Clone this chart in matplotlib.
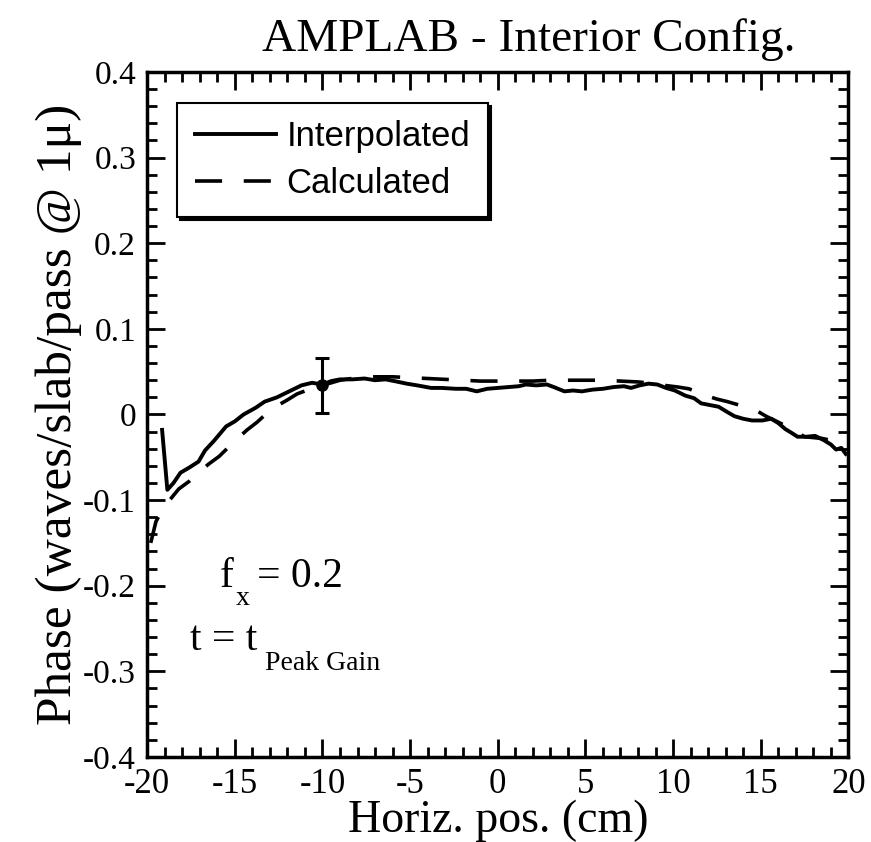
import numpy as np
import matplotlib.pyplot as plt
from matplotlib.ticker import MultipleLocator

plt.rcParams['font.family'] = ['Liberation Serif', 'DejaVu Serif']
plt.rcParams['axes.unicode_minus'] = False

# Interpolated (solid) curve
interp_x = [-19.15, -18.85, -18.5, -18.1, -17.6, -17.07, -16.7, -16.2, -15.5, -15.0,
            -14.5, -13.8, -13.3, -12.6, -12.2, -11.6, -11.2, -10.6, -10.0, -9.5,
            -9.0, -8.3, -7.6, -7.0, -6.4, -5.9, -5.2, -4.6, -3.8, -3.2,
            -2.4, -1.8, -1.2, -0.6, 0.0, 0.6, 1.2, 1.6, 2.2, 2.8,
            3.2, 3.8, 4.3, 4.8, 5.4, 6.0, 6.6, 7.2, 7.6, 8.1,
            8.6, 9.1, 9.6, 10.1, 10.7, 11.2, 11.6, 12.1, 12.6, 13.0,
            13.5, 14.0, 14.5, 15.1, 15.6, 16.0, 16.4, 16.8, 17.1, 17.6,
            18.1, 18.6, 19.0, 19.3, 19.6, 19.85]
interp_y = [-0.018, -0.088, -0.080, -0.068, -0.062, -0.055, -0.042, -0.031, -0.014, -0.008,
            0.000, 0.008, 0.015, 0.020, 0.024, 0.030, 0.034, 0.037, 0.035, 0.039,
            0.041, 0.041, 0.042, 0.040, 0.041, 0.039, 0.036, 0.034, 0.031, 0.031,
            0.030, 0.030, 0.027, 0.030, 0.031, 0.032, 0.033, 0.035, 0.034, 0.035,
            0.032, 0.027, 0.028, 0.027, 0.029, 0.030, 0.032, 0.033, 0.031, 0.034,
            0.036, 0.035, 0.031, 0.028, 0.022, 0.019, 0.013, 0.011, 0.009, 0.004,
            -0.002, -0.005, -0.007, -0.007, -0.005, -0.010, -0.017, -0.022, -0.026, -0.026,
            -0.025, -0.030, -0.035, -0.041, -0.039, -0.046]

# Calculated (dashed) curve
calc_x = [-19.8, -19.5, -19.07, -18.6, -18.2, -17.6, -17.07, -16.5, -15.9, -15.4,
          -14.84, -14.3, -13.73, -13.2, -12.6, -12.0, -11.45, -10.8, -10.0, -9.0,
          -8.0, -7.0, -6.0, -5.0, -4.0, -3.0, -2.0, -1.0, 0.0, 1.0,
          2.0, 3.0, 4.0, 5.0, 6.0, 7.0, 8.0, 9.0, 9.5, 10.3,
          10.9, 11.4, 11.9, 12.5, 13.1, 13.6, 14.2, 14.8, 15.3, 15.9,
          16.4, 17.0, 17.5, 18.0, 18.5, 19.2, 20.0]
calc_y = [-0.150, -0.125, -0.109, -0.097, -0.087, -0.078, -0.068, -0.058, -0.049, -0.039,
          -0.028, -0.018, -0.009, 0.001, 0.010, 0.017, 0.024, 0.029, 0.034, 0.040,
          0.043, 0.044, 0.044, 0.043, 0.042, 0.041, 0.040, 0.039, 0.039, 0.039,
          0.039, 0.040, 0.040, 0.040, 0.040, 0.039, 0.038, 0.036, 0.034, 0.032,
          0.030, 0.026, 0.022, 0.018, 0.015, 0.012, 0.009, 0.004, -0.002, -0.008,
          -0.013, -0.020, -0.026, -0.027, -0.028, -0.031, -0.035]

# error bar point
err_x = [-10.0]
err_y = [0.034]
err_dy = [0.032]

fig = plt.figure(figsize=(8.71, 8.42), dpi=100)
ax = fig.add_axes([0.169, 0.101, 0.805, 0.8135])

ax.plot(interp_x, interp_y, color='k', lw=2.8, label='Interpolated')
ax.plot(calc_x, calc_y, color='k', lw=2.6, linestyle=(0, (7.5, 6)), label='Calculated')
ax.errorbar(err_x, err_y, yerr=err_dy, fmt='o', color='k', ms=8, capsize=5,
            elinewidth=2.2, capthick=2.2)

ax.set_xlim(-20, 20)
ax.set_ylim(-0.4, 0.4)
ax.xaxis.set_major_locator(MultipleLocator(5))
ax.xaxis.set_minor_locator(MultipleLocator(1))
ax.yaxis.set_minor_locator(MultipleLocator(0.02))
ax.set_yticks(np.arange(-0.4, 0.41, 0.1))
ax.set_yticklabels(['-0.4', '-0.3', '-0.2', '-0.1', '0', '0.1', '0.2', '0.3', '0.4'])
ax.tick_params(which='both', direction='in', top=True, right=True, width=2)
ax.tick_params(which='major', length=13)
ax.tick_params(which='minor', length=7)
ax.tick_params(axis='x', which='major', pad=8, labelsize=25)
ax.tick_params(axis='y', which='major', pad=8, labelsize=24)
for s in ax.spines.values():
    s.set_linewidth(2.5)

ax.set_xlabel('Horiz. pos. (cm)', fontsize=33, labelpad=-1)
ax.set_ylabel('Phase (waves/slab/pass @ 1\u03bc)', fontsize=37, labelpad=1)
fig.text(0.607, 0.953, 'AMPLAB - Interior Config.', fontsize=34, ha='center', va='center')

# annotations: main text plus hand-placed subscripts
ax.text(-15.85, -0.2015, 'f', fontsize=30, va='baseline')
ax.text(-14.95, -0.2225, 'x', fontsize=20, va='baseline')
ax.text(-13.75, -0.2015, '= 0.2', fontsize=30, va='baseline')
ax.text(-17.55, -0.275, 't = t', fontsize=30, va='baseline')
ax.text(-13.3, -0.2985, 'Peak Gain', fontsize=20, va='baseline')

leg = ax.legend(loc='upper left', bbox_to_anchor=(0.043, 0.955), borderaxespad=0,
                prop={'family': 'Liberation Sans', 'size': 25}, handlelength=2.35,
                handletextpad=0.3, borderpad=0.5, labelspacing=0.4,
                fancybox=False, edgecolor='k', framealpha=1,
                shadow={'color': 'k', 'alpha': 1})
leg.get_frame().set_linewidth(1.5)

fig.savefig('out.png', dpi=100)
